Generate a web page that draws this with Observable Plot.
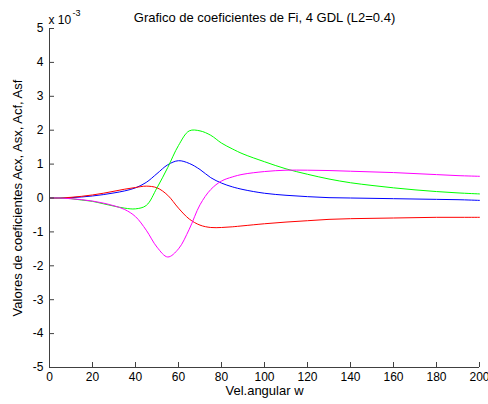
<!DOCTYPE html>
<html>
<head>
<meta charset="utf-8">
<script src="https://cdn.jsdelivr.net/npm/d3@7"></script>
<script src="https://cdn.jsdelivr.net/npm/@observablehq/plot@0.6"></script>
<style>
  html, body { margin: 0; padding: 0; background: #fff; }
  svg { display: block; }
</style>
</head>
<body>
<div id="chart"></div>
<script>
// angular velocity samples
const w = [0,5,10,15,20,25,30,35,40,45,50,55,60,65,70,75,80,85,90,100,110,120,130,140,150,160,170,180,190,200];
// coefficients (x 10^-3)
const acx = [0,0,0.01,0.03,0.06,0.1,0.15,0.21,0.3,0.46,0.72,0.98,1.1,1.02,0.84,0.6,0.44,0.33,0.25,0.14,0.08,0.04,0.01,0,-0.01,-0.02,-0.03,-0.04,-0.05,-0.07];
const asx = [0,0,0.02,0.05,0.09,0.14,0.2,0.26,0.31,0.35,0.3,0.08,-0.3,-0.62,-0.8,-0.87,-0.87,-0.85,-0.82,-0.76,-0.71,-0.67,-0.63,-0.61,-0.6,-0.59,-0.58,-0.57,-0.57,-0.57];
const acf = [0,0,-0.02,-0.06,-0.1,-0.17,-0.24,-0.3,-0.32,-0.22,0.3,0.9,1.55,1.98,1.98,1.85,1.62,1.45,1.3,1.07,0.86,0.7,0.56,0.45,0.37,0.3,0.24,0.19,0.15,0.12];
const asf = [0,0,-0.02,-0.05,-0.09,-0.15,-0.23,-0.34,-0.55,-0.95,-1.45,-1.74,-1.5,-0.92,-0.2,0.25,0.5,0.62,0.7,0.78,0.82,0.82,0.81,0.79,0.77,0.75,0.72,0.69,0.66,0.64];
const seriesNames = ["Acx","Asx","Acf","Asf"];
const seriesColors = ["#0000ff","#ff0000","#00ff00","#ff00ff"];
const xTicks = [0,20,40,60,80,100,120,140,160,180,200];
const yTicks = [-5,-4,-3,-2,-1,0,1,2,3,4,5];

const seriesVals = [acx, asx, acf, asf];
const rows = [];
seriesVals.forEach((vals, s) => vals.forEach((v, i) => rows.push({w: w[i], v, s: seriesNames[s]})));

const font = "'Liberation Sans', Arial, sans-serif";
const axisColor = "#404040";
const fmt = d => String(d);

const chart = Plot.plot({
  width: 488,
  height: 404,
  marginLeft: 49,
  marginRight: 9,
  marginTop: 28,
  marginBottom: 37,
  style: {fontFamily: font, fontSize: "12px", color: "#000", background: "#fff"},
  x: {domain: [0, 200], ticks: xTicks, label: null},
  y: {domain: [-5, 5], ticks: yTicks, label: null},
  color: {domain: seriesNames, range: seriesColors},
  marks: [
    Plot.line(rows, {x: "w", y: "v", z: "s", stroke: "s", strokeWidth: 1, curve: "catmull-rom"}),
    Plot.ruleX([0], {stroke: axisColor}),
    Plot.ruleY([-5], {stroke: axisColor}),
    Plot.axisX(xTicks, {tickSize: -5, tickPadding: 10, tickFormat: fmt, stroke: axisColor, fill: "#000", fontSize: 12}),
    Plot.axisY(yTicks, {tickSize: -5, tickPadding: 11, tickFormat: fmt, stroke: axisColor, fill: "#000", fontSize: 12}),
    Plot.text(["Grafico de coeficientes de Fi, 4 GDL (L2=0.4)"], {frameAnchor: "top", dy: -16, fontSize: 13, fill: "#000"}),
    Plot.text(["x 10"], {frameAnchor: "top-left", dx: -1, dy: -13, textAnchor: "start", fontSize: 12, fill: "#000"}),
    Plot.text(["-3"], {frameAnchor: "top-left", dx: 23, dy: -19, textAnchor: "start", fontSize: 9, fill: "#000"}),
    Plot.text(["Vel.angular w"], {frameAnchor: "bottom", dy: 27, fontSize: 13, fill: "#000"}),
    Plot.text(["Valores de coeficientes Acx, Asx, Acf, Asf"], {frameAnchor: "left", dx: -32, rotate: -90, textAnchor: "middle", fontSize: 13, fill: "#000"})
  ]
});
document.getElementById("chart").appendChild(chart);
</script>
</body>
</html>
